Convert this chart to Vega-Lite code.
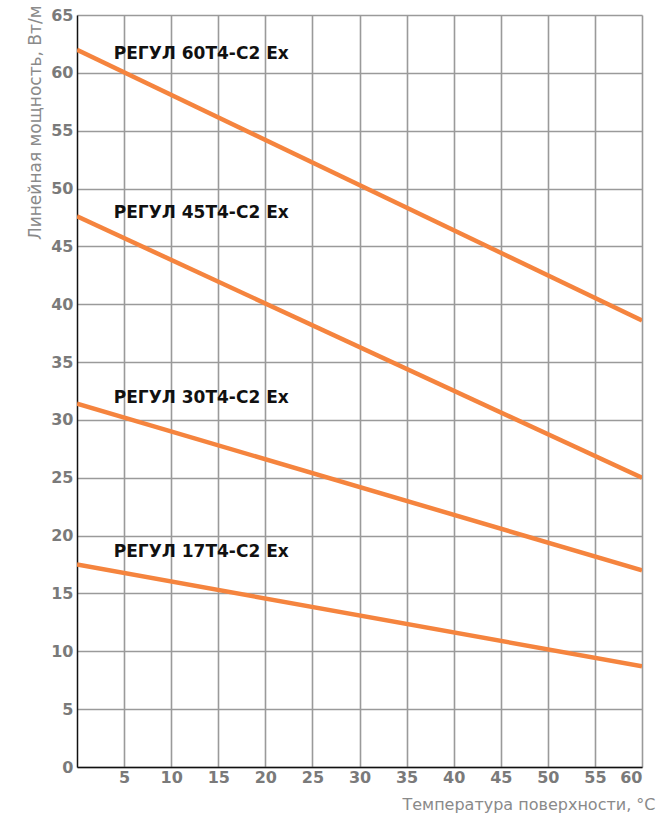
{
  "$schema": "https://vega.github.io/schema/vega-lite/v6.json",
  "autosize": "none",
  "width": 565,
  "height": 752,
  "padding": {"left": 77, "top": 15, "right": 16, "bottom": 51},
  "background": "white",
  "config": {"view": {"stroke": null}, "font": "DejaVu Sans"},
  "datasets": {
    "lines": [
      {"series": "60", "t": 0, "p": 62.0},
      {"series": "60", "t": 60, "p": 38.6},
      {"series": "45", "t": 0, "p": 47.6},
      {"series": "45", "t": 60, "p": 25.0},
      {"series": "30", "t": 0, "p": 31.4},
      {"series": "30", "t": 60, "p": 17.0},
      {"series": "17", "t": 0, "p": 17.5},
      {"series": "17", "t": 60, "p": 8.7}
    ],
    "labels": [
      {"label": "РЕГУЛ 60Т4-С2 Ex", "t": 3.9, "p": 61.6},
      {"label": "РЕГУЛ 45Т4-С2 Ex", "t": 3.9, "p": 47.9},
      {"label": "РЕГУЛ 30Т4-С2 Ex", "t": 3.9, "p": 31.9},
      {"label": "РЕГУЛ 17Т4-С2 Ex", "t": 3.9, "p": 18.6}
    ]
  },
  "layer": [
    {
      "data": {"name": "lines"},
      "mark": {"type": "line", "color": "#F5843E", "strokeWidth": 4.5, "clip": true},
      "encoding": {
        "x": {
          "field": "t", "type": "quantitative",
          "scale": {"domain": [0, 60], "nice": false, "zero": false},
          "axis": {
            "values": [5, 10, 15, 20, 25, 30, 35, 40, 45, 50, 55, 60],
            "title": "Температура поверхности, °C",
            "titleFont": "DejaVu Sans", "titleFontSize": 16, "titleFontWeight": "normal", "titleColor": "#8a8a8a",
            "titleAnchor": "end", "titleAlign": "right", "titleX": 578, "titleY": 29,
            "labelFont": "DejaVu Sans", "labelFontSize": 16, "labelFontWeight": "bold", "labelColor": "#7a7a7a", "labelPadding": 2,
            "ticks": false, "domainColor": "#111111", "domainWidth": 1.5,
            "grid": true, "gridColor": "#9a9a9a", "gridWidth": 1.6
          }
        },
        "y": {
          "field": "p", "type": "quantitative",
          "scale": {"domain": [0, 65], "nice": false},
          "axis": {
            "values": [0, 5, 10, 15, 20, 25, 30, 35, 40, 45, 50, 55, 60, 65],
            "title": "Линейная мощность, Вт/м",
            "titleFont": "DejaVu Sans", "titleFontSize": 17, "titleFontWeight": "normal", "titleColor": "#8a8a8a",
            "titleAngle": -90, "titleAlign": "right", "titleBaseline": "middle", "titleX": -42, "titleY": -10,
            "labelFont": "DejaVu Sans", "labelFontSize": 16, "labelFontWeight": "bold", "labelColor": "#7a7a7a", "labelPadding": 4,
            "ticks": false, "domainColor": "#111111", "domainWidth": 1.5,
            "grid": true, "gridColor": "#9a9a9a", "gridWidth": 1.6
          }
        },
        "detail": {"field": "series"}
      }
    },
    {
      "data": {"name": "labels"},
      "mark": {"type": "text", "align": "left", "baseline": "middle", "font": "DejaVu Sans", "fontSize": 17, "fontWeight": "bold", "color": "#111111"},
      "encoding": {
        "x": {"field": "t", "type": "quantitative"},
        "y": {"field": "p", "type": "quantitative"},
        "text": {"field": "label"}
      }
    }
  ]
}
